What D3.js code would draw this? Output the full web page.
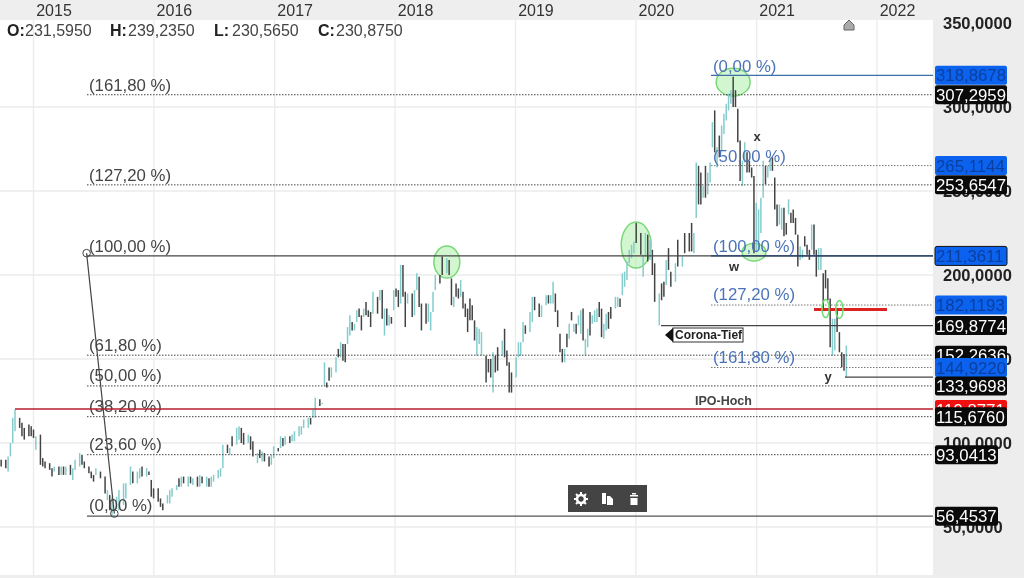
<!DOCTYPE html>
<html><head><meta charset="utf-8">
<script src="https://cdn.jsdelivr.net/npm/d3@7"></script>
<style>html,body{margin:0;padding:0;background:#fff}svg{display:block;filter:blur(.4px)}text{font-family:"Liberation Sans",Arial,sans-serif}</style>
</head><body><svg id="c" width="1024" height="578"></svg>
<script>
const yearTicks=[2015,2016,2017,2018,2019,2020,2021,2022];
const axisValues=[350,300,250,200,150,100,50];
const barWeeks=[-14,-12,-11,-10,-9,-8,-6,-5,-4,-2,-1,0,1,3,4,5,7,8,9,11,12,13,14,16,17,18,20,21,22,24,25,26,27,29,31,32,33,34,36,37,39,40,42,43,45,46,47,49,50,51,52,54,55,56,58,59,60,62,63,64,65,67,68,69,71,72,73,75,76,77,78,80,81,82,84,85,86,88,89,90,91,93,94,95,97,98,99,100,102,103,104,106,107,108,109,111,112,113,115,116,117,119,120,121,122,124,125,126,127,128,129,131,132,133,134,135,136,137,138,139,140,141,142,143,144,145,146,147,149,150,151,152,153,154,155,156,157,158,159,160,161,162,164,165,166,167,168,170,171,172,173,174,176,177,179,180,181,182,183,184,185,186,187,188,189,190,191,192,193,194,196,197,198,199,200,201,203,204,205,206,207,209,210,211,212,213,215,216,217,219,220,222,223,224,225,226,227,228,229,230,231,232,233,234,235,236,237,238,239,240,241,242,243,244,245,246,247,248,249,250,252,253,254,255,256,257,258,259,260,261,263,264,265,266,267,268,269,271,272,273,274,275,276,278,279,281,282,284,285,286,287,288,289,290,291,292,293,294,295,296,297,298,299,300,301,302,303,304,305,306,307,308,309,310,311,312,313,314,315,316,317,318,319,320,321,322,323,324,325,326,327,328,329,330,331,332,333,334,335,336,337,338,339,340,341,342,343,344,345,346,347,348,349,350,351,352];
const barHighs=[90,90,92,100,115,120,115,112,109,111,110,108,104,105,91,89,88,85,86,86,86,86,86,87,85,90,94,93,89,86,83,81,85,83,80,72,69,68,68,72,76,76,86,83,83,85,86,85,83,78,73,73,67,64,69,72,73,75,79,80,80,80,80,79,80,81,80,80,79,80,81,84,85,99,99,97,104,109,110,109,106,105,104,101,94,96,95,94,92,93,98,97,104,103,104,104,105,107,110,110,114,115,115,120,127,126,124,148,136,145,145,151,156,160,159,159,169,176,172,171,179,180,176,180,184,179,178,190,187,191,191,180,180,176,175,191,192,191,206,206,190,189,189,191,201,199,183,183,183,178,190,200,200,211,210,209,198,187,195,192,197,190,183,180,186,182,173,169,168,166,152,150,150,154,152,157,161,168,155,148,142,151,160,160,172,170,178,187,187,183,182,188,188,188,196,189,179,165,156,156,165,171,178,171,171,176,179,180,162,168,178,176,179,180,184,180,171,177,178,181,187,187,186,201,202,208,215,218,220,231,225,212,225,224,221,215,207,189,195,196,209,216,202,207,221,211,225,225,231,225,267,265,261,253,265,261,267,291,298,276,283,289,296,302,308,310,318,310,299,280,268,279,273,268,264,259,243,239,246,268,265,265,270,270,258,242,242,240,240,231,245,237,239,234,224,217,215,223,218,215,230,230,215,216,216,201,203,198,186,174,174,180,166,154,153,158];
const barLows=[86,85,83,92,100,107,109,104,102,104,104,103,96,87,86,85,84,80,83,81,81,81,81,81,78,84,86,87,85,82,79,77,81,79,70,66,60,57,61,60,63,67,75,76,76,79,80,80,81,68,67,65,62,60,64,64,68,72,74,74,76,74,76,75,74,74,76,74,74,74,77,79,80,85,94,93,98,99,102,100,99,100,96,92,88,91,89,89,86,87,91,95,97,98,99,100,101,101,104,105,109,109,111,115,115,122,123,134,133,137,139,142,151,151,149,148,159,164,167,167,172,175,167,175,176,175,169,177,177,185,174,164,170,170,171,179,187,181,183,187,169,183,175,176,191,181,167,171,172,167,178,191,195,200,201,200,182,181,187,186,187,180,175,166,173,173,161,152,159,152,136,142,139,130,142,143,152,151,146,130,130,139,151,152,160,165,166,172,179,175,175,182,183,183,183,178,169,154,148,148,157,162,173,166,165,170,165,161,152,157,164,171,172,172,175,163,162,167,168,174,180,181,181,188,193,197,207,210,213,219,212,199,211,208,209,200,184,170,185,187,194,203,193,196,205,205,213,214,214,213,234,242,242,246,246,248,255,276,273,264,270,274,284,292,298,302,300,300,279,256,253,267,261,261,258,213,214,215,225,246,254,258,262,262,239,229,230,227,223,224,236,231,231,224,205,209,210,217,212,209,215,212,199,203,203,180,192,185,157,152,155,166,154,145,143,139];
const barUps=[
0,0,1,1,1,1,0,0,0,0,
0,0,1,0,0,0,0,0,1,0,
1,0,1,0,1,1,1,0,0,0,
0,0,1,0,0,1,0,1,1,1,
1,1,1,0,1,1,0,1,0,0,
0,0,0,0,1,1,1,1,0,1,
0,1,0,1,0,1,0,1,0,1,
1,1,1,1,0,1,0,1,1,0,
0,1,0,0,1,0,1,0,0,1,
1,0,1,0,1,0,1,1,1,1,
1,1,0,1,1,0,1,1,0,0,
1,1,0,1,0,0,1,1,0,1,
1,0,0,1,0,0,0,1,0,1,
0,1,0,1,0,1,0,0,1,0,
0,1,0,1,1,0,0,0,1,1,
1,1,0,0,1,0,0,1,0,0,
1,0,0,0,0,0,0,1,1,1,
0,0,0,1,0,0,1,0,0,0,
0,1,1,1,1,0,1,1,0,0,
1,1,0,1,1,0,0,0,0,1,
0,1,0,1,0,1,1,0,1,1,
0,1,1,1,0,0,1,1,0,0,
1,1,0,1,1,1,1,1,1,0,
0,1,1,0,1,0,0,1,0,0,
1,0,0,1,0,1,0,0,0,1,
1,0,0,1,0,1,1,1,0,1,
0,1,1,1,1,1,0,0,0,0,
1,1,0,0,0,0,1,1,1,1,
0,1,1,0,0,0,1,1,0,0,
1,0,0,0,0,1,1,0,0,0,
1,0,0,1,1,0,0,0,0,1,
1,0,0,0,0,1];
const leftFibValues=[307.2959,253.6547,211.3611,152.2636,133.9698,115.676,93.0413,56.4537];
const leftFibLabels=["(161,80 %)","(127,20 %)","(100,00 %)","(61,80 %)","(50,00 %)","(38,20 %)","(23,60 %)","(0,00 %)"];
const leftFibSolid=[0,0,1,0,0,0,0,1];
const rightFibValues=[318.8678,265.1144,211.3611,182.1193,144.922];
const rightFibLabels=["(0,00 %)","(50,00 %)","(100,00 %)","(127,20 %)","(161,80 %)"];
const rightFibSolid=[1,0,1,0,0];
const tagValues=[119.8771,307.2959,318.8678,253.6547,265.1144,211.3611,182.1193,169.8774,152.2636,144.922,133.9698,115.676,93.0413,56.4537];
const tagColors=["red","black","blue","black","blue","blue","blue","black","black","blue","black","black","black","black"];
const header=[["O:","231,5950"],["H:","239,2350"],["L:","230,5650"],["C:","230,8750"]];
const circleWeeks=[303,179,261,312],circleValues=[314.8,207.7,217.8,213.6],circleRx=[17,13,15,12],circleRy=[14,16,23,9];
const smallWeeks=[343,349],smallValues=[180,179.5];
const waveWeeks=[23,35],waveValues=[213,58];

const W=1024,H=578,plotR=933,bandTop=20,bandBottom=575;
const svg=d3.select("#c");
const base=new Date(2015,0,1);
const x=d3.scaleTime().domain([base,new Date(2022,0,1)]).range([33.5,877]);
const y=d3.scaleLinear().domain([50,350]).range([527,23]);
const wk=w=>x(d3.timeWeek.offset(base,w));

svg.append("rect").attr("width",W).attr("height",H).attr("fill","#fff");
svg.append("rect").attr("x",plotR).attr("width",W-plotR).attr("height",H).attr("fill","#ededed");
svg.append("rect").attr("width",W).attr("height",bandTop).attr("fill","#eeeeee");
svg.append("rect").attr("y",bandBottom).attr("width",W).attr("height",H-bandBottom).attr("fill","#eeeeee");

const yearDates=yearTicks.map(t=>new Date(t,0,1));
svg.append("g").selectAll("line").data(yearDates).join("line").attr("x1",d=>x(d)).attr("x2",d=>x(d)).attr("y1",bandTop).attr("y2",bandBottom).attr("stroke","#ebebeb").attr("stroke-width",1.3);
svg.append("g").selectAll("line").data(axisValues.slice(1)).join("line").attr("x1",0).attr("x2",plotR).attr("y1",d=>y(d)).attr("y2",d=>y(d)).attr("stroke","#ebebeb").attr("stroke-width",1.3);
svg.append("g").selectAll("text").data(yearDates).join("text").attr("x",d=>x(d)+20.5).attr("y",16).attr("text-anchor","middle").attr("font-size",16).attr("fill","#333").text(d=>d.getFullYear());

// Green highlight circles under the bars
svg.append("g").selectAll("ellipse").data(circleWeeks).join("ellipse").attr("cx",d=>wk(d)).attr("cy",(d,i)=>y(circleValues[i])).attr("rx",(d,i)=>circleRx[i]).attr("ry",(d,i)=>circleRy[i]).attr("fill","#a6eda0").attr("fill-opacity",.5).attr("stroke","#78d878").attr("stroke-width",1.5);

// Bars
svg.append("g").selectAll("line").data(barWeeks).join("line")
 .attr("x1",d=>wk(d)).attr("x2",d=>wk(d))
 .attr("y1",(d,i)=>y(barHighs[i])).attr("y2",(d,i)=>y(barLows[i]))
 .attr("stroke",(d,i)=>barUps[i]?"#86cccc":"#444").attr("stroke-width",1.5);

// Fibonacci levels
function fib(values,solid,x0,colorSolid,colorDot){
 svg.append("g").selectAll("line").data(values).join("line").attr("x1",x0).attr("x2",plotR).attr("y1",d=>y(d)).attr("y2",d=>y(d))
  .attr("stroke",(d,i)=>solid[i]?colorSolid[i]:colorDot).attr("stroke-width",(d,i)=>solid[i]?1.3:1).attr("stroke-dasharray",(d,i)=>solid[i]?null:"1.5,1.5");
}
fib(leftFibValues,leftFibSolid,87,["#444","#444","#444","#444","#444","#444","#444","#555"],"#444");
fib(rightFibValues,rightFibSolid,711,["#3f6fa8",null,"#24406e"],"#777");
const leftOffsets=[4,4,4,4,5,5,5,5];
svg.append("g").selectAll("text").data(leftFibLabels).join("text").attr("x",89).attr("y",(d,i)=>y(leftFibValues[i])-leftOffsets[i]).attr("font-size",16.8).attr("fill","#444").text(d=>d);
svg.append("g").selectAll("text").data(rightFibLabels).join("text").attr("x",713).attr("y",(d,i)=>y(rightFibValues[i])-[3,4,4,5,5][i]).attr("font-size",16.8).attr("fill","#4a73b8").text(d=>d);

// Horizontal marks
const hLine=(v,x0,x1,c,w)=>svg.append("line").attr("x1",x0).attr("x2",x1).attr("y1",y(v)).attr("y2",y(v)).attr("stroke",c).attr("stroke-width",w);
hLine(120.2,15,plotR,"#b5202e",1.4);
hLine(169.8774,661,plotR,"#444",1.3);
hLine(139.2,845,plotR,"#444",1.2);
hLine(179.4,814,887,"#dd2020",3);

// Wave line and end circles
svg.append("path").datum(waveWeeks).attr("d",d3.line().x(d=>wk(d)).y((d,i)=>y(waveValues[i]))).attr("fill","none").attr("stroke","#444").attr("stroke-width",1.2);
svg.append("g").selectAll("circle").data(waveWeeks).join("circle").attr("cx",d=>wk(d)).attr("cy",(d,i)=>y(waveValues[i])).attr("r",3.8).attr("fill","none").attr("stroke","#444");
svg.append("g").selectAll("ellipse").data(smallWeeks).join("ellipse").attr("cx",d=>wk(d)).attr("cy",(d,i)=>y(smallValues[i])).attr("rx",3.6).attr("ry",9).attr("fill","none").attr("stroke","#6fdc6f").attr("stroke-width",1.5);

// Text annotations
[["x",757,141],["w",734,271],["y",828,381]].forEach(t=>svg.append("text").attr("x",t[1]).attr("y",t[2]).attr("text-anchor","middle").attr("font-size",13).attr("font-weight","bold").attr("fill","#333").text(t[0]));
svg.append("text").attr("x",695).attr("y",405).attr("font-size",12.5).attr("font-weight","bold").attr("fill","#444").text("IPO-Hoch");
svg.append("rect").attr("x",673).attr("y",328).attr("width",70).attr("height",14).attr("fill","#fff").attr("stroke","#333");
svg.append("path").attr("d","M665,335L673,328V342Z").attr("fill","#111");
svg.append("text").attr("x",675).attr("y",339).attr("font-size",12).attr("font-weight","bold").attr("fill","#222").text("Corona-Tief");

// Header
const headX=[7,110,214,318];
header.forEach((h,i)=>{
 svg.append("text").attr("x",headX[i]).attr("y",36).attr("font-size",16).attr("font-weight","bold").attr("fill","#222").text(h[0]);
 svg.append("text").attr("x",headX[i]+18).attr("y",36).attr("font-size",16).attr("fill","#444").text(h[1]);
});

// Right axis
svg.append("g").selectAll("text").data(axisValues).join("text").attr("x",943).attr("y",d=>y(d)+6).attr("font-size",16.5).attr("font-weight","bold").attr("fill","#222").text(d=>d3.format(".4f")(d).replace(".",","));

// Price tags
const tagFill={red:"#f01010",black:"#0a0a0a",blue:"#0a62ee"},tagText={red:"#fff",black:"#fff",blue:"#0c3f9e"};
const tags=svg.append("g").selectAll("g").data(tagValues).join("g").attr("transform",d=>`translate(935,${y(d)})`);
tags.append("rect").attr("y",-9.5).attr("height",19).attr("rx",2).attr("width",d=>d<100?63:72).attr("fill",(d,i)=>tagFill[tagColors[i]]).attr("stroke",d=>d===211.3611?"#111":"none");
tags.append("text").attr("x",1).attr("y",6).attr("font-size",16.8).attr("fill",(d,i)=>tagText[tagColors[i]]).text(d=>d3.format(".4f")(d).replace(".",","));

// Handle marker
svg.append("path").attr("d","M844,30V25L849,20L854,25V30Z").attr("fill","#aaa").attr("stroke","#666");

// Toolbar
const tb=svg.append("g");
tb.append("rect").attr("x",568).attr("y",485).attr("width",79).attr("height",27).attr("fill","#444");
const gear=tb.append("g").attr("transform","translate(581,499)");
gear.append("circle").attr("r",4).attr("fill","none").attr("stroke","#fff").attr("stroke-width",2.6);
d3.range(8).forEach(k=>gear.append("rect").attr("x",-1).attr("y",-7).attr("width",2).attr("height",3).attr("fill","#fff").attr("transform",`rotate(${k*45})`));
tb.append("path").attr("d","M602,493h4v11h-4ZM607,496h3l3,3v6h-6Z").attr("fill","#fff");
tb.append("path").attr("d","M630,495h8v1.5h-8ZM632,493h4v1.5h-4ZM630.5,498h7v7h-7Z").attr("fill","#fff");
</script>
</body></html>
